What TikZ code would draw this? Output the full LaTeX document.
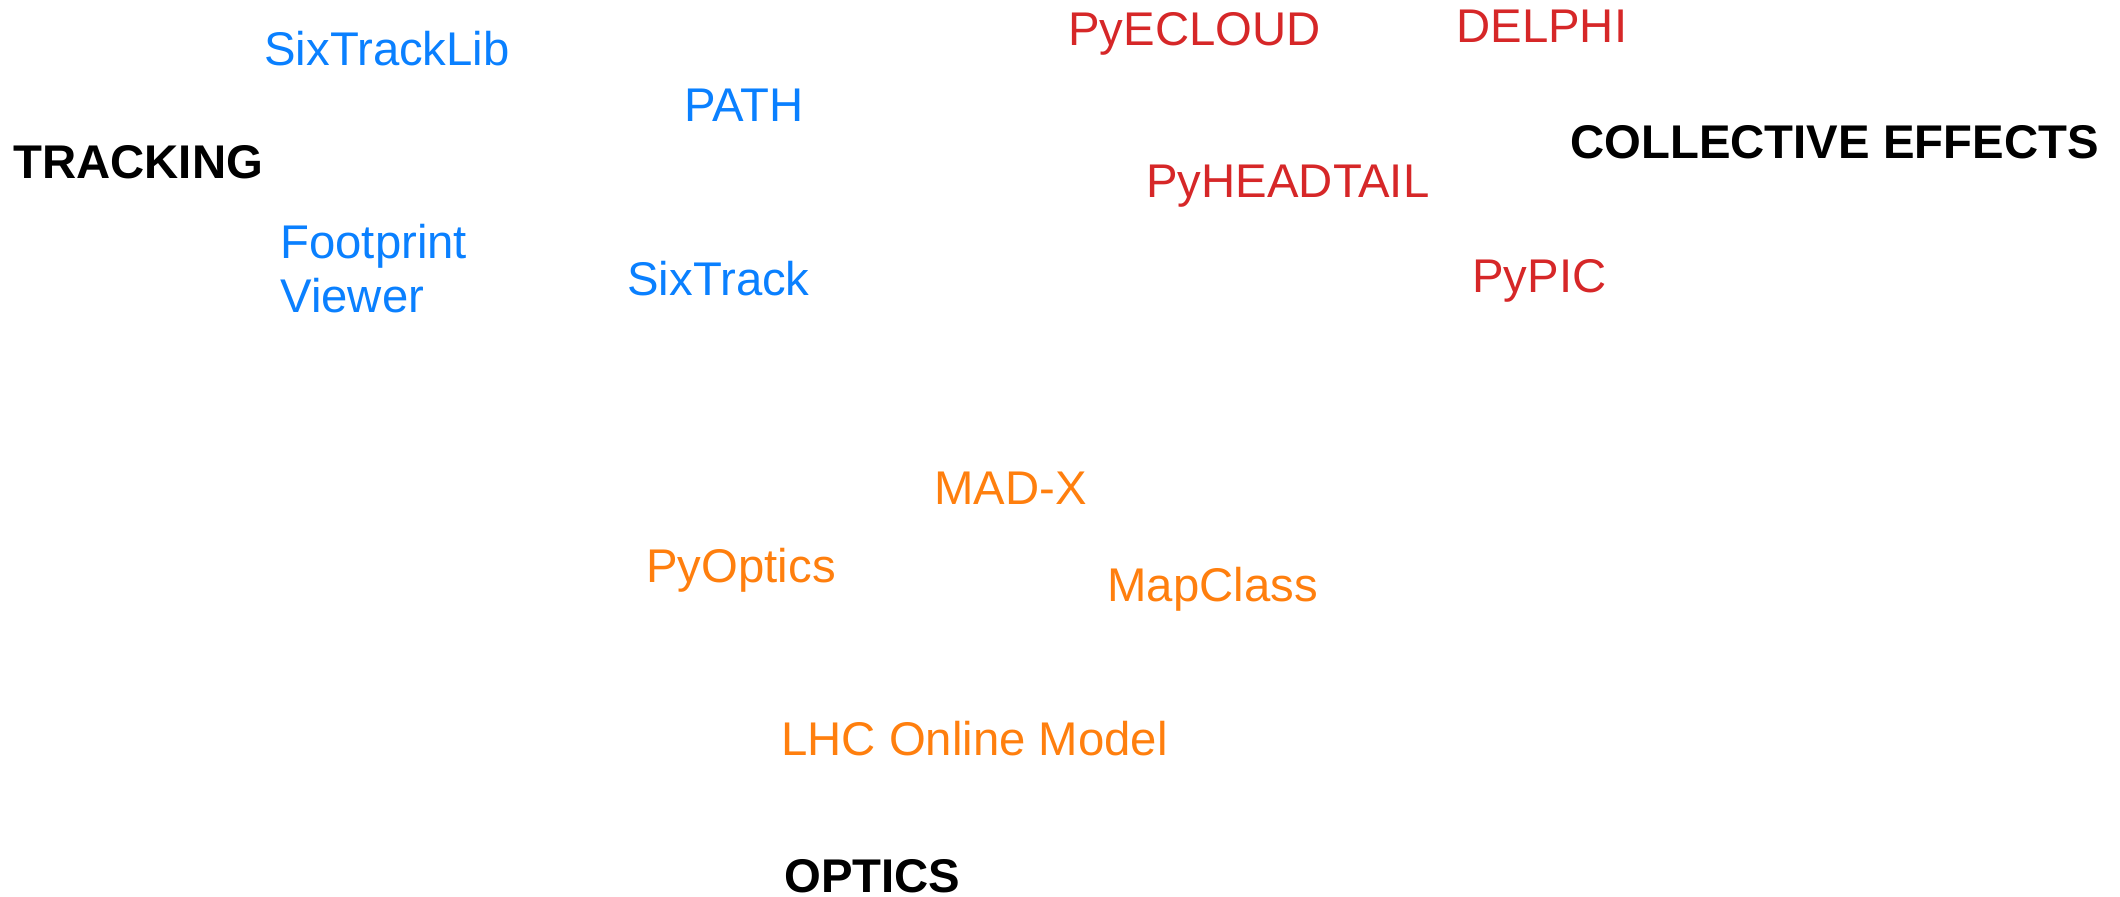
\documentclass[tikz,border=0pt]{standalone}
\usepackage{fontspec}
\setmainfont{Liberation Sans}
\usepackage{tikz}

\definecolor{trackblue}{RGB}{10,128,255}
\definecolor{collred}{RGB}{214,39,40}
\definecolor{opticsorange}{RGB}{255,127,14}

\begin{document}
\begin{tikzpicture}[x=0.5pt,y=-0.5pt,
        label/.style={anchor=base west,inner sep=0pt,font=\fontsize{23.65}{27}\selectfont},
        group/.style={label,font=\fontsize{23.65}{27}\selectfont\bfseries},
        track/.style={label,text=trackblue},
        coll/.style={label,text=collred},
        optic/.style={label,text=opticsorange}]
        \useasboundingbox (0,0) rectangle (2120,897);  % page size

        % Tracking codes (blue)
        \node[group] (tracking) at (13,179) {TRACKING};
        \node[track] (sixtracklib) at (264,66) {SixTrackLib};
        \node[track] (path) at (684,122) {PATH};
        \node[track,align=left] (footprint) at (280,313) {Footprint\\Viewer};  % base = last line
        \node[track] (sixtrack) at (627,296) {SixTrack};

        % Collective effects codes (red)
        \node[group] (collective) at (1570,159) {COLLECTIVE EFFECTS};
        \node[coll] (pyecloud) at (1068,46) {PyECLOUD};
        \node[coll] (delphi) at (1456,43) {DELPHI};
        \node[coll] (pyheadtail) at (1146,198) {PyHEADTAIL};
        \node[coll] (pypic) at (1472,293) {PyPIC};

        % Optics codes (orange)
        \node[group] (optics) at (784,892) {OPTICS};
        \node[optic] (madx) at (934,505) {MAD-X};
        \node[optic] (pyoptics) at (646,582) {PyOptics};
        \node[optic] (mapclass) at (1107,602) {MapClass};
        \node[optic] (lhcmodel) at (781,755) {LHC Online Model};
    \end{tikzpicture}
\end{document}
